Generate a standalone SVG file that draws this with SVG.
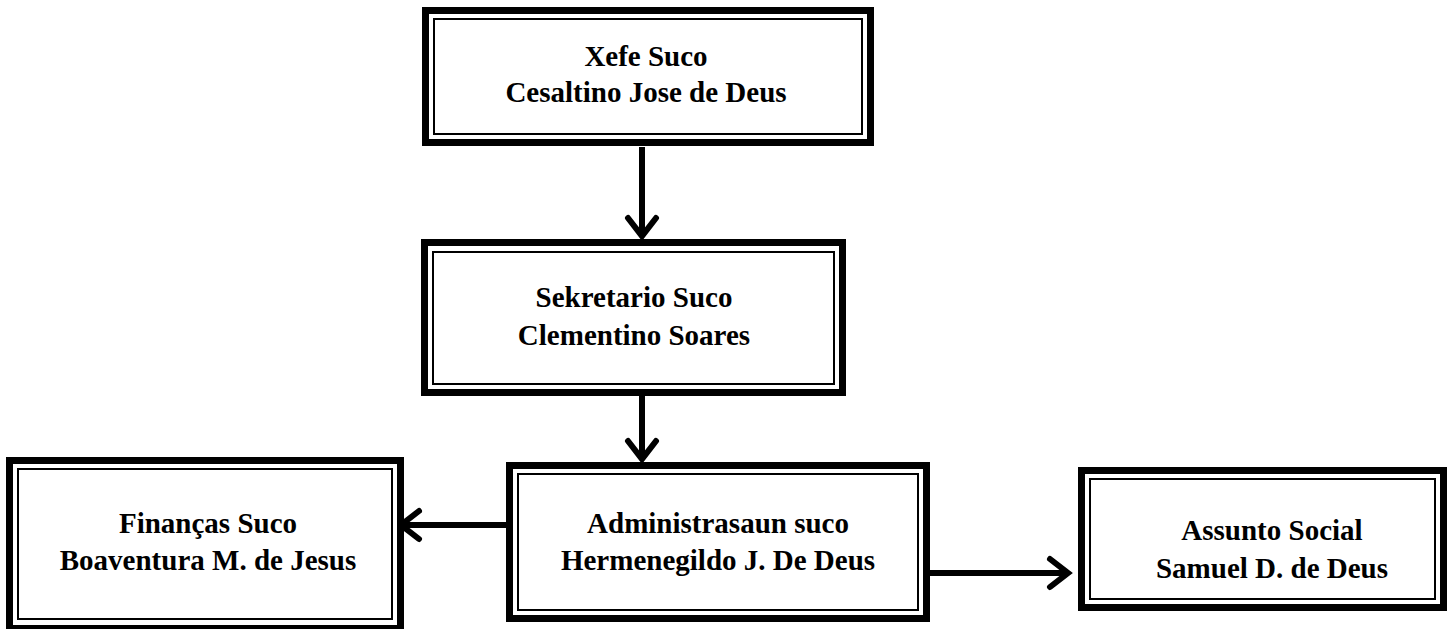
<svg xmlns="http://www.w3.org/2000/svg" width="1452" height="629" viewBox="0 0 1452 629">
<style>
.outer{fill:#fff;stroke:#000;stroke-width:7}
.inner{fill:none;stroke:#000;stroke-width:2}
.t{font-family:"Liberation Serif","Times New Roman",serif;font-weight:bold;font-size:29px;fill:#000;text-anchor:middle}
.ln{fill:none;stroke:#000;stroke-width:6}
.hd{fill:none;stroke:#000;stroke-width:6;stroke-linecap:round;stroke-linejoin:miter}
</style>
<rect width="1452" height="629" fill="#fff"/>
<g id="connectors">
<line class="ln" x1="642" y1="147" x2="642" y2="236"/>
<polyline class="hd" points="628,218 642,236 656,218"/>
<line class="ln" x1="642" y1="396" x2="642" y2="459"/>
<polyline class="hd" points="628,441 642,459 656,441"/>
<line class="ln" x1="506" y1="525" x2="401" y2="525"/>
<polyline class="hd" points="419,511 401,525 419,539"/>
<line class="ln" x1="930" y1="573" x2="1068" y2="573"/>
<polyline class="hd" points="1050,559 1068,573 1050,587"/>
</g>
<g id="xefe">
<rect class="outer" x="425.5" y="10.5" width="445" height="132"/>
<rect class="inner" x="434" y="19" width="428" height="115"/>
<text class="t" x="646" y="66">Xefe Suco</text>
<text class="t" x="646" y="102">Cesaltino Jose de Deus</text>
</g>
<g id="sekretario">
<rect class="outer" x="424.5" y="242.5" width="418" height="150"/>
<rect class="inner" x="433" y="252" width="401" height="132"/>
<text class="t" x="634" y="307">Sekretario Suco</text>
<text class="t" x="634" y="345">Clementino Soares</text>
</g>
<g id="financas">
<rect class="outer" x="9.5" y="460.5" width="391" height="168"/>
<rect class="inner" x="18" y="469" width="374" height="150"/>
<text class="t" x="208" y="533">Finanças Suco</text>
<text class="t" x="208" y="570">Boaventura M. de Jesus</text>
</g>
<g id="administrasaun">
<rect class="outer" x="509.5" y="465.5" width="417" height="153"/>
<rect class="inner" x="518" y="474" width="400" height="136"/>
<text class="t" x="718" y="533">Administrasaun suco</text>
<text class="t" x="718" y="570">Hermenegildo J. De Deus</text>
</g>
<g id="assunto">
<rect class="outer" x="1081.5" y="470.5" width="362" height="137"/>
<rect class="inner" x="1090" y="479" width="345" height="120"/>
<text class="t" x="1272" y="540">Assunto Social</text>
<text class="t" x="1272" y="578">Samuel D. de Deus</text>
</g>
</svg>
